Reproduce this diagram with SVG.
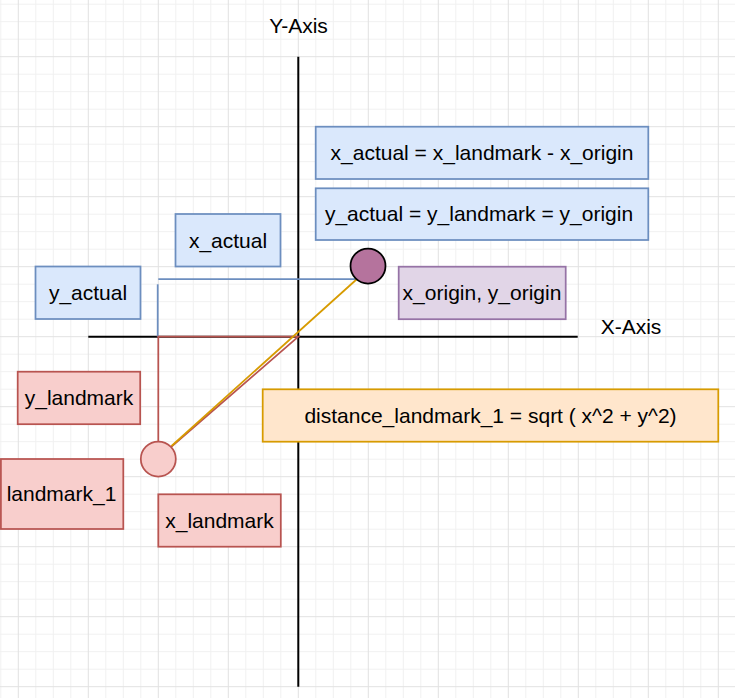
<svg xmlns="http://www.w3.org/2000/svg" width="735" height="698" viewBox="0 0 735 698">
  <defs>
    <style>
      text { font-family: "Liberation Sans", Arial, sans-serif; font-size: 21px; fill: #000; text-anchor: middle; }
      .gminor { stroke: #f1f1f1; stroke-width: 1; fill: none; }
      .gmajor { stroke: #e2e2e2; stroke-width: 1; fill: none; }
      .blue { fill: #dae8fc; stroke: #6c8ebf; stroke-width: 1.75; }
      .red { fill: #f8cecc; stroke: #b85450; stroke-width: 1.75; }
      .purple { fill: #e1d5e7; stroke: #9673a6; stroke-width: 1.75; }
      .orange { fill: #ffe6cc; stroke: #d79b00; stroke-width: 1.75; }
      .axis { stroke: #000; stroke-width: 2; fill: none; }
      .lblue { stroke: #6c8ebf; stroke-width: 1.75; fill: none; }
      .lred { stroke: #b85450; stroke-width: 1.75; fill: none; }
      .lorange { stroke: #d79b00; stroke-width: 1.75; fill: none; }
    </style>
  </defs>
  <rect width="735" height="698" fill="#ffffff"/>
  <g id="grid">
    <path class="gminor" d="M0.8 0V698 M35.8 0V698 M53.3 0V698 M70.8 0V698 M105.8 0V698 M123.3 0V698 M140.8 0V698 M175.8 0V698 M193.3 0V698 M210.8 0V698 M245.8 0V698 M263.3 0V698 M280.8 0V698 M315.8 0V698 M333.3 0V698 M350.8 0V698 M385.8 0V698 M403.3 0V698 M420.8 0V698 M455.8 0V698 M473.3 0V698 M490.8 0V698 M525.8 0V698 M543.3 0V698 M560.8 0V698 M595.8 0V698 M613.3 0V698 M630.8 0V698 M665.8 0V698 M683.3 0V698 M700.8 0V698
      M0 4.2H735 M0 21.7H735 M0 39.2H735 M0 74.2H735 M0 91.7H735 M0 109.2H735 M0 144.2H735 M0 161.7H735 M0 179.2H735 M0 214.2H735 M0 231.7H735 M0 249.2H735 M0 284.2H735 M0 301.7H735 M0 319.2H735 M0 354.2H735 M0 371.7H735 M0 389.2H735 M0 424.2H735 M0 441.7H735 M0 459.2H735 M0 494.2H735 M0 511.7H735 M0 529.2H735 M0 564.2H735 M0 581.7H735 M0 599.2H735 M0 634.2H735 M0 651.7H735 M0 669.2H735"/>
    <path class="gmajor" d="M18.3 0V698 M88.3 0V698 M158.3 0V698 M228.3 0V698 M298.3 0V698 M368.3 0V698 M438.3 0V698 M508.3 0V698 M578.3 0V698 M648.3 0V698 M718.3 0V698
      M0 56.7H735 M0 126.7H735 M0 196.7H735 M0 266.7H735 M0 336.7H735 M0 406.7H735 M0 476.7H735 M0 546.7H735 M0 616.7H735 M0 686.7H735"/>
  </g>

  <g id="axes">
    <line class="axis" x1="298.3" y1="56.7" x2="298.3" y2="686.7"/>
    <line class="axis" x1="88.3" y1="336.7" x2="577.7" y2="336.7"/>
    <text x="298.5" y="33">Y-Axis</text>
    <text x="631" y="334">X-Axis</text>
  </g>

  <g id="connectors">
    <polyline class="lblue" points="158.3,279 356.5,279"/>
    <polyline class="lblue" points="157.7,284.3 157.7,336.7"/>
    <polyline class="lred" points="158.3,441.3 158.3,336.7 298.3,336.7 171,447"/>
    <line class="lorange" x1="357" y1="279" x2="171.5" y2="446"/>
  </g>

  <g id="eq-x">
    <rect class="blue" x="315.7" y="126.7" width="332.6" height="52.3"/>
    <text x="482" y="160">x_actual = x_landmark - x_origin</text>
  </g>
  <g id="eq-y">
    <rect class="blue" x="315.7" y="188.3" width="332.6" height="51.7"/>
    <text x="479" y="221">y_actual = y_landmark = y_origin</text>
  </g>
  <g id="x-actual">
    <rect class="blue" x="175.5" y="214" width="105" height="52.5"/>
    <text x="228" y="248">x_actual</text>
  </g>
  <g id="y-actual">
    <rect class="blue" x="35.5" y="266.5" width="105" height="52.5"/>
    <text x="88" y="300">y_actual</text>
  </g>
  <g id="origin-point">
    <circle cx="368" cy="266" r="17.5" fill="#b5739d" stroke="#000" stroke-width="1.75"/>
  </g>
  <g id="origin-label">
    <rect class="purple" x="398.7" y="266.7" width="167" height="52.5"/>
    <text x="482" y="300">x_origin, y_origin</text>
  </g>
  <g id="y-landmark">
    <rect class="red" x="17.7" y="371.7" width="122.5" height="52.5"/>
    <text x="79" y="405">y_landmark</text>
  </g>
  <g id="distance">
    <rect class="orange" x="262.7" y="389.3" width="455.6" height="52.4"/>
    <text x="490.5" y="422.7">distance_landmark_1 = sqrt ( x^2 + y^2)</text>
  </g>
  <g id="landmark-point">
    <circle cx="158.3" cy="459" r="17.5" class="red"/>
  </g>
  <g id="landmark-1">
    <rect class="red" x="0.9" y="459" width="122.4" height="70"/>
    <text x="61.5" y="501">landmark_1</text>
  </g>
  <g id="x-landmark">
    <rect class="red" x="158.3" y="494.3" width="122.5" height="52.4"/>
    <text x="219.5" y="528">x_landmark</text>
  </g>
</svg>
